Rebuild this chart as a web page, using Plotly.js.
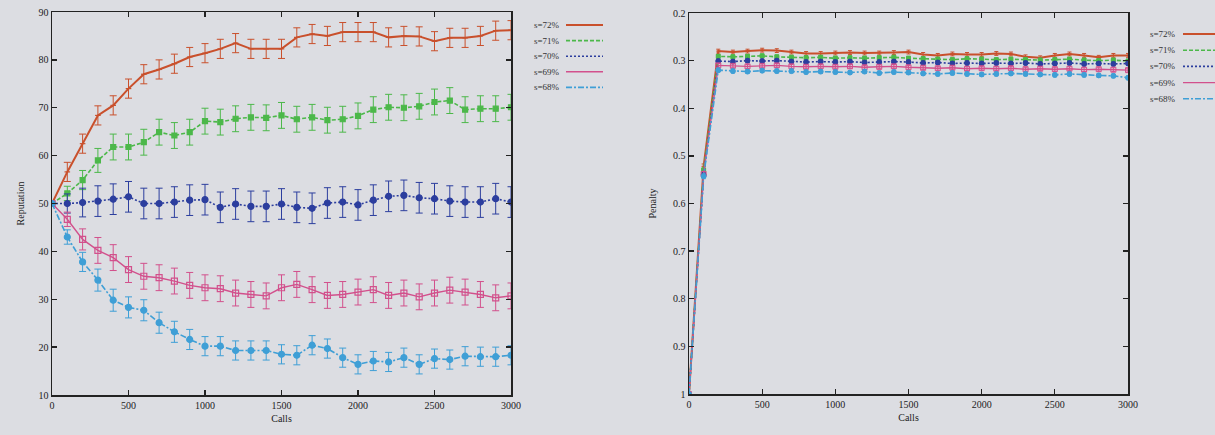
<!DOCTYPE html>
<html>
<head>
<meta charset="utf-8">
<script src="https://cdn.plot.ly/plotly-3.0.1.min.js"></script>
<style>
html,body{margin:0;padding:0;background:#dcdde2;}
#chart{width:1215px;height:435px;}
</style>
</head>
<body>
<div id="chart"></div>
<script>
// ---- data ----
const calls = [0,100,200,300,400,500,600,700,800,900,1000,1100,1200,1300,1400,1500,1600,1700,1800,1900,2000,2100,2200,2300,2400,2500,2600,2700,2800,2900,3000];
const seriesNames = ["s=72%","s=71%","s=70%","s=69%","s=68%"];

// Reputation (left panel)
const rep72 = [50,56.6,62.5,68.4,70.5,74.0,77.0,78.0,79.2,80.6,81.4,82.3,83.5,82.3,82.3,82.3,84.7,85.4,85.0,85.8,85.8,85.8,84.7,85.0,84.9,83.9,84.6,84.6,85.0,86.1,86.2];
const rep71 = [50,52.1,54.9,59.0,61.8,61.8,62.8,64.9,64.2,64.9,67.2,67.0,67.7,68.0,67.9,68.4,67.6,68.0,67.4,67.6,68.3,69.6,70.1,70.0,70.3,71.2,71.5,69.6,69.8,69.8,70.1];
const rep70 = [50,50.0,50.2,50.5,50.9,51.4,50.0,50.0,50.3,50.7,50.8,49.2,49.9,49.4,49.4,49.9,49.2,49.0,50.1,50.3,49.7,50.7,51.5,51.7,51.2,51.0,50.5,50.3,50.3,51.0,50.3];
const rep69 = [50,46.7,42.5,40.2,38.7,36.2,34.8,34.5,33.8,32.9,32.4,32.2,31.3,31.0,30.7,32.4,33.1,32.0,30.8,31.0,31.5,32.0,30.8,31.3,30.5,31.3,31.9,31.5,31.0,30.3,30.7];
const rep68 = [50,43.0,37.8,34.0,29.8,28.3,27.7,25.1,23.2,21.6,20.2,20.2,19.3,19.3,19.3,18.5,18.3,20.4,19.7,17.8,16.4,17.1,16.9,17.8,16.4,17.6,17.4,18.1,18.0,18.0,18.3];
const repErr72 = [0,2,2,2,2,2,2,2,2,2,2,2,2,2,2,2,2,2,2,2,2,2,2,2,2,2,2,2,2,2,2];
const repErr71 = [0,1.5,2,2.5,2.7,2.7,2.7,2.7,2.7,2.7,2.7,2.7,2.7,2.7,2.7,2.7,2.7,2.7,2.7,2.7,2.7,2.7,2.7,2.7,2.7,2.7,2.7,2.7,2.7,2.7,2.7];
const repErr70 = [0,2,3,3.2,3.2,3.2,3.2,3.2,3.2,3.2,3.2,3.2,3.2,3.2,3.2,3.2,3.2,3.2,3.2,3.2,3.2,3.2,3.2,3.2,3.2,3.2,3.2,3.2,3.2,3.2,3.2];
const repErr69 = [0,1.5,2.2,2.7,2.7,2.7,2.7,2.7,2.7,2.7,2.7,2.7,2.7,2.7,2.7,2.7,2.7,2.7,2.7,2.7,2.7,2.7,2.7,2.7,2.7,2.7,2.7,2.7,2.7,2.7,2.7];
const repErr68 = [0,1.5,2,2.3,2.3,2.2,2.2,2.2,2.2,2.1,2.0,2.0,2.0,2.0,2.0,2.0,2.0,2.0,2.0,2.0,2.0,2.0,2.0,2.0,2.0,2.0,2.0,2.0,2.0,2.0,2.0];

// Penalty (right panel)
const pen72 = [1.0,0.522,0.280,0.282,0.280,0.278,0.279,0.282,0.285,0.285,0.284,0.283,0.284,0.284,0.283,0.282,0.287,0.289,0.286,0.287,0.287,0.285,0.286,0.292,0.294,0.289,0.286,0.289,0.293,0.289,0.289];
const pen71 = [1.0,0.530,0.291,0.292,0.291,0.290,0.292,0.293,0.294,0.293,0.295,0.294,0.295,0.294,0.293,0.295,0.296,0.297,0.298,0.296,0.297,0.298,0.297,0.298,0.299,0.298,0.297,0.299,0.300,0.299,0.301];
const pen70 = [1.0,0.540,0.301,0.302,0.300,0.301,0.300,0.302,0.303,0.302,0.303,0.302,0.304,0.303,0.302,0.303,0.305,0.304,0.306,0.305,0.306,0.305,0.306,0.305,0.307,0.306,0.305,0.307,0.306,0.307,0.306];
const pen69 = [1.0,0.538,0.310,0.311,0.312,0.311,0.310,0.312,0.313,0.312,0.313,0.312,0.314,0.313,0.312,0.314,0.315,0.316,0.315,0.317,0.316,0.317,0.316,0.318,0.317,0.318,0.317,0.319,0.318,0.319,0.320];
const pen68 = [1.0,0.543,0.320,0.322,0.323,0.321,0.322,0.322,0.324,0.323,0.324,0.325,0.323,0.326,0.324,0.325,0.327,0.328,0.326,0.328,0.329,0.328,0.327,0.328,0.329,0.330,0.328,0.330,0.331,0.332,0.336];
const penErr = [0,0.005,0.004,0.004,0.004,0.004,0.004,0.004,0.004,0.004,0.004,0.004,0.004,0.004,0.004,0.004,0.004,0.004,0.004,0.004,0.004,0.004,0.004,0.004,0.004,0.004,0.004,0.004,0.004,0.004,0.004];

const xTicks = [0,500,1000,1500,2000,2500,3000];
const repTicks = [10,20,30,40,50,60,70,80,90];
const penTicks = [0.2,0.3,0.4,0.5,0.6,0.7,0.8,0.9,1];
const penTickText = ["0.2","0.3","0.4","0.5","0.6","0.7","0.8","0.9","1"];

// ---- styles ----
const colors = ["#c9502c","#4cb84a","#2c3e9e","#d2508c","#3f9fd6"];
const dashes = ["solid","4px,2px","2px,2px","solid","6px,2px,2px,2px"];
const widths = [2,1.6,1.6,1.4,1.6];
const symbols = ["line-ew","square","circle","square-open","circle"];
const msizes = [4,5,6,6,6];

const repData = [rep72,rep71,rep70,rep69,rep68];
const repErrs = [repErr72,repErr71,repErr70,repErr69,repErr68];
const penData = [pen72,pen71,pen70,pen69,pen68];

const traces = [];
for (let i=0;i<5;i++){
  traces.push({
    x: calls, y: repData[i], xaxis:'x', yaxis:'y', type:'scatter', mode:'lines+markers',
    name: seriesNames[i], showlegend:false,
    line:{color:colors[i], width:widths[i], dash:dashes[i]},
    marker:{color:colors[i], symbol:symbols[i], size:msizes[i], line:{color:colors[i], width:1.2}},
    error_y:{type:'data', array:repErrs[i], visible:true, color:colors[i], thickness:1, width:3.5}
  });
}
for (let i=0;i<5;i++){
  traces.push({
    x: calls, y: penData[i], xaxis:'x2', yaxis:'y2', type:'scatter', mode:'lines+markers',
    name: seriesNames[i], showlegend:false,
    line:{color:colors[i], width:widths[i], dash:dashes[i]},
    marker:{color:colors[i], symbol:symbols[i], size:msizes[i]-1, line:{color:colors[i], width:1}},
    error_y:{type:'data', array:penErr, visible:true, color:colors[i], thickness:1, width:2}
  });
}

const W=1215, H=435;
const font = {family:"Liberation Serif, Times New Roman, serif", size:10, color:"#222"};
const axisCommon = {
  showgrid:false, zeroline:false, showline:true, linecolor:"#222", linewidth:1.5,
  mirror:'ticks', ticks:'inside', ticklen:5, tickcolor:"#222", tickwidth:1.3,
  tickfont:font
};

// legend keys (layout decoration built from series names/styles)
const shapes = [], annotations = [];
function addLegend(labelRight, lineX0, lineX1, y0, dy){
  for (let i=0;i<5;i++){
    const y = 1 - (y0 + dy*i)/H;
    annotations.push({xref:'paper', yref:'paper', x:labelRight/W, y:y, xanchor:'right', yanchor:'middle',
      text:seriesNames[i], showarrow:false, font:{family:font.family, size:9, color:"#333"}});
    shapes.push({type:'line', xref:'paper', yref:'paper', x0:lineX0/W, x1:lineX1/W, y0:y, y1:y,
      line:{color:colors[i], width:widths[i], dash:dashes[i]}});
  }
}
addLegend(562, 566, 603, 25, 15.6);
addLegend(1178, 1183, 1218, 34, 16.2);

const layout = {
  width:W, height:H, margin:{l:0,r:0,t:0,b:0},
  paper_bgcolor:"#dcdde2", plot_bgcolor:"#dcdde2",
  font:font, showlegend:false,
  xaxis:Object.assign({}, axisCommon, {domain:[52/W, 511/W], range:[0,3000], tickvals:xTicks, anchor:'y',
    title:{text:"Calls", font:font, standoff:5}}),
  yaxis:Object.assign({}, axisCommon, {domain:[1-395/H, 1-12/H], range:[10,90], tickvals:repTicks, anchor:'x',
    title:{text:"Reputation", font:font, standoff:12}}),
  xaxis2:Object.assign({}, axisCommon, {domain:[689/W, 1128/W], range:[0,3000], tickvals:xTicks, anchor:'y2',
    title:{text:"Calls", font:font, standoff:5}}),
  yaxis2:Object.assign({}, axisCommon, {domain:[1-394/H, 1-13/H], range:[1,0.2], tickvals:penTicks, ticktext:penTickText, anchor:'x2',
    title:{text:"Penalty", font:font, standoff:14}}),
  shapes:shapes, annotations:annotations
};

Plotly.newPlot('chart', traces, layout, {staticPlot:true, displayModeBar:false});
</script>
</body>
</html>
